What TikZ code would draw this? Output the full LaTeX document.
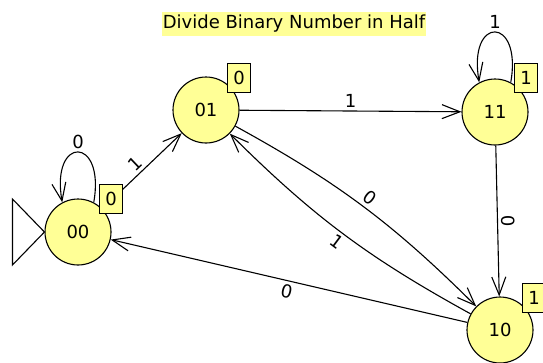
\documentclass[tikz,border=0pt]{standalone}
\usepackage{fontspec}
\setmainfont{DejaVu Sans}
\usetikzlibrary{arrows.meta, backgrounds}
\definecolor{jyellow}{RGB}{255,255,150}
\tikzset{
    state/.style={draw, circle, fill=jyellow, minimum size=66pt, inner sep=0pt},
    outbox/.style={draw, fill=jyellow, minimum width=23pt, minimum height=29pt, inner sep=0pt},
}
\begin{document}
\begin{tikzpicture}[x=1pt, y=1pt, auto, line width=1.1pt, font=\fontsize{18}{21}\selectfont,
    >={Straight Barb[length=18pt, width=14pt]}]
    \useasboundingbox (0,0) rectangle (543,-362);
    % Title
    \node[fill=jyellow, inner xsep=1pt, inner ysep=3pt] (title) at (294,-24) {Divide Binary Number in Half};

    % States
    \node[state] (s00) at (78,-232) {00};
    \node[state] (s01) at (206,-110) {01};
    \node[state] (s11) at (495,-112) {11};
    \node[state] (s10) at (500,-330) {10};

    % Outputs
    \node[outbox] (b00) at ([shift={(33,33)}]s00.center) {0};
    \node[outbox] (b01) at ([shift={(33,32)}]s01.center) {0};
    \node[outbox] (b11) at ([shift={(31,34)}]s11.center) {1};
    \node[outbox] (b10) at ([shift={(34,32)}]s10.center) {1};

    % Start
    \draw ([shift={(-32,33)}]s00.west) -- (s00.west) -- ([shift={(-32,-33)}]s00.west) -- cycle;

    % Transitions
    \begin{scope}[on background layer={line width=1.1pt}]
    \draw[->] (s00.62) to[out=80, in=100, distance=68pt] node[above, swap] {0} (s00.118);
    \draw[->] (s11.62) to[out=80, in=100, distance=68pt] node[above, swap] {1} (s11.118);
    \draw[->] (s00) -- node[sloped] {1} (s01);
    \draw[->] (s01) -- node {1} (s11);
    \draw[->] (s11) -- node[sloped] {0} (s10);
    \draw[->] (s01) to[bend left=8] node[sloped] {0} (s10);
    \draw[->] (s10) to[bend left=8] node[sloped, swap] {1} (s01);
    \draw[->] (s10) -- node[sloped, swap] {0} (s00);
    \end{scope}
\end{tikzpicture}
\end{document}
